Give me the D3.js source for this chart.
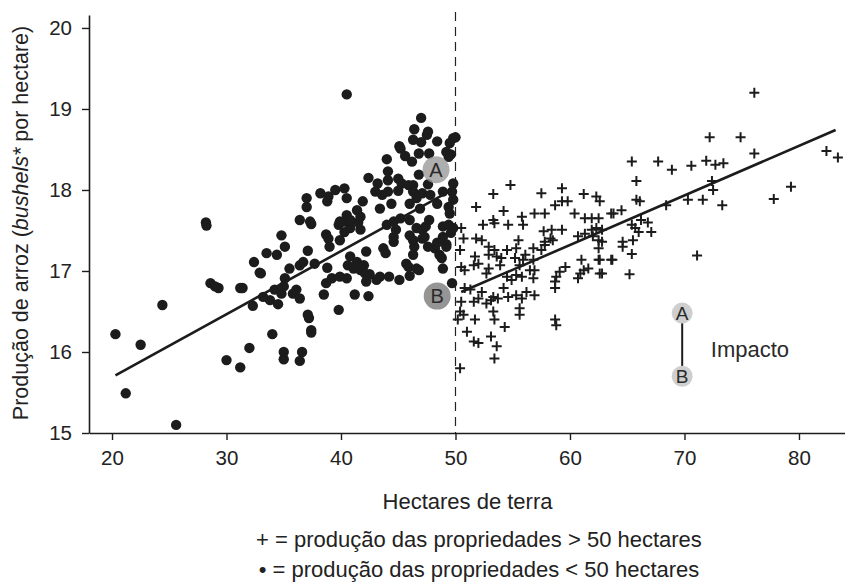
<!DOCTYPE html>
<html>
<head>
<meta charset="utf-8">
<script src="https://cdnjs.cloudflare.com/ajax/libs/d3/7.8.5/d3.min.js"></script>
<style>
  body { margin: 0; background: #fff; }
  svg { font-family: "Liberation Sans", Arial, sans-serif; }
</style>
</head>
<body>
<div id="chart"></div>
<script>
// small farms (< 50 ha): [hectares, yield]
var smallFarms = [
  [28.2,17.60],[28.25,17.56],[32.4,17.11],[32.9,16.98],[28.6,16.85],[29.3,16.79],[29.0,16.81],[31.4,16.79],[31.2,16.79],
  [24.4,16.58],[32.3,16.57],[20.3,16.22],[22.5,16.09],[32.0,16.05],[30.0,15.90],[31.2,15.81],[21.2,15.49],[25.6,15.10],
  [36.4,17.63],[37.4,17.58],[34.8,17.44],[38.7,17.45],[38.9,17.40],[39.0,17.30],[39.8,17.57],[40.3,17.48],[40.8,17.53],
  [41.7,17.51],[39.9,17.38],[33.5,17.22],[34.4,17.20],[35.1,17.30],[37.1,17.25],[33.0,16.97],[35.5,17.03],[36.4,17.07],
  [36.7,17.11],[37.7,17.09],[38.8,17.04],[35.1,16.91],[35.0,16.81],[34.2,16.77],[34.8,16.72],[33.2,16.68],[33.8,16.64],
  [34.5,16.59],[35.8,16.72],[36.1,16.77],[36.4,16.66],[38.5,16.71],[38.7,16.85],[39.2,16.91],[39.9,16.93],[40.8,17.18],
  [40.6,17.07],[41.1,17.03],[41.4,17.11],[41.7,17.01],[42.0,17.07],[42.1,16.97],[42.5,16.96],[40.5,16.91],[41.2,16.71],
  [42.2,16.87],[42.4,16.69],[42.2,17.24],[43.1,16.89],[43.4,16.93],[44.2,16.93],[45.1,16.89],[46.0,16.94],[46.8,17.01],
  [45.7,17.09],[45.9,17.05],[46.4,17.30],[46.3,17.20],[43.7,17.28],[43.9,17.22],[44.6,17.36],[39.8,16.52],[37.1,16.46],
  [37.2,16.42],[37.4,16.27],[37.4,16.24],[34.0,16.22],[35.0,16.00],[35.0,15.91],[36.6,16.00],[36.4,15.89],[48.2,17.28],
  [48.6,17.20],[48.8,17.16],[49.2,17.30],[48.9,17.03],[49.7,16.85],[48.9,17.55],[49.4,17.57],[49.8,17.53],[44.6,17.61],
  [45.2,17.65],[46.0,17.63],[46.6,17.53],[47.1,17.51],[46.0,17.44],[46.3,17.38],[47.1,17.40],[47.7,17.63],[40.3,17.61],
  [41.5,17.60],[44.0,17.57],[44.8,17.51],[44.6,17.42],
  [40.5,19.18],[47.0,18.89],[46.4,18.75],[47.6,18.72],[47.5,18.68],[46.3,18.62],[47.0,18.59],[48.4,18.60],[49.8,18.64],
  [50.0,18.65],[49.5,18.58],[45.1,18.54],[45.2,18.51],[46.8,18.45],[47.7,18.45],[49.2,18.47],[49.6,18.44],[49.4,18.41],
  [45.6,18.42],[46.2,18.35],[44.0,18.38],[44.1,18.23],[46.8,18.19],[47.6,18.07],[42.4,18.15],[43.2,18.08],[44.1,18.12],
  [45.0,18.14],[45.3,18.08],[45.9,18.06],[46.3,18.06],[49.8,18.08],[49.7,17.98],[49.8,17.88],[48.9,17.98],[43.0,17.98],
  [43.6,17.94],[44.1,17.98],[45.0,17.99],[44.4,17.83],[46.3,17.98],[46.6,17.90],[47.1,17.96],[47.8,17.94],[46.0,17.83],
  [46.9,17.77],[48.4,17.83],[49.4,17.79],[49.5,17.71],[38.2,17.96],[38.9,17.92],[38.8,17.86],[39.5,18.00],[40.3,18.02],
  [40.5,17.90],[37.0,17.90],[37.0,17.79],[41.9,17.86],[41.4,17.75],[40.5,17.69],[37.3,17.61],[43.4,17.77],[39.9,17.61],
  [40.8,17.63],[41.7,17.67],[49.6,17.47],[49.2,17.33],[48.9,17.42],[47.3,17.42],[48.4,17.35],[47.4,17.55],[47.6,17.30],
  [46.6,17.03]
];

// large farms (> 50 ha): [hectares, yield]
var largeFarms = [
  [54.8,18.06],[53.3,17.95],[57.5,17.96],[59.3,18.02],[61.2,17.95],[58.7,17.81],[59.3,17.86],[59.8,17.86],[62.3,17.92],
  [62.6,17.86],[51.8,17.79],[54.2,17.74],[55.8,17.67],[56.9,17.71],[57.8,17.71],[60.4,17.71],[53.3,17.63],[53.4,17.59],
  [61.3,17.65],[61.9,17.65],[52.4,17.57],[54.6,17.57],[55.9,17.57],[62.5,17.65],[62.3,17.53],[62.8,17.51],[50.5,17.53],
  [57.7,17.49],[58.4,17.51],[59.3,17.51],[61.3,17.46],[61.9,17.51],[50.7,17.40],[51.8,17.40],[52.3,17.38],[55.5,17.38],
  [57.8,17.36],[58.3,17.40],[58.5,17.38],[60.7,17.43],[62.0,17.43],[62.5,17.38],[62.8,17.36],[52.9,17.30],[53.4,17.26],
  [50.4,17.26],[54.5,17.26],[55.3,17.28],[56.1,17.20],[56.8,17.28],[57.5,17.26],[57.8,17.32],[62.5,17.28],[51.7,17.18],
  [52.9,17.20],[53.6,17.18],[54.0,17.16],[55.2,17.16],[55.9,17.14],[56.8,17.14],[61.0,17.14],[62.5,17.14],[50.5,17.05],
  [50.8,17.01],[51.6,17.07],[52.0,17.09],[52.9,17.03],[52.7,16.97],[53.9,17.07],[55.6,17.07],[56.5,17.01],[56.9,17.01],
  [59.6,17.05],[59.1,16.99],[61.6,17.03],[60.7,16.91],[62.6,16.97],[54.5,16.93],[54.9,16.89],[55.3,16.95],[55.8,16.93],
  [56.8,16.91],[58.8,16.93],[58.7,16.87],[58.7,16.79],[50.8,16.79],[51.3,16.77],[52.3,16.74],[53.3,16.68],[53.7,16.66],
  [54.2,16.79],[54.6,16.68],[55.3,16.70],[55.8,16.66],[56.2,16.74],[56.9,16.70],[50.5,16.62],[51.6,16.62],[52.7,16.60],
  [53.1,16.64],[52.0,16.66],[50.4,16.50],[50.7,16.46],[53.3,16.50],[53.4,16.40],[51.7,16.40],[50.2,16.40],[55.6,16.54],
  [55.6,16.46],[58.7,16.40],[58.8,16.33],[54.3,16.31],[51.0,16.25],[53.1,16.19],[51.6,16.13],[52.0,16.11],[53.6,16.07],
  [53.4,15.92],[50.4,15.80],
  [65.4,18.35],[67.7,18.35],[68.9,18.25],[70.6,18.30],[71.9,18.36],[72.7,18.31],[73.4,18.33],[65.8,18.11],[72.4,18.11],
  [72.5,18.00],[73.3,17.81],[70.3,17.88],[71.6,17.88],[68.4,17.81],[65.8,17.88],[66.1,17.86],[63.6,17.71],[64.5,17.75],
  [66.2,17.63],[66.8,17.60],[65.4,17.57],[65.7,17.53],[67.1,17.48],[66.0,17.48],[65.5,17.38],[64.6,17.36],[64.6,17.30],
  [65.4,17.21],[63.7,17.14],[62.8,16.97],[65.2,16.96],[71.1,17.19],[63.8,17.71],[60.9,16.97],[61.2,17.01],[62.6,17.14],
  [63.6,17.14],
  [76.1,19.20],[72.2,18.65],[74.9,18.65],[76.1,18.45],[82.4,18.48],[83.4,18.40],[77.8,17.89],[79.3,18.04]
];

// fitted lines, each [[x0,y0],[x1,y1]]
var fitSmall = [[20.3, 15.71], [49.3, 17.97]];
var fitLarge = [[50.5, 16.74], [83.2, 18.74]];

var xTicks = [20, 30, 40, 50, 60, 70, 80];
var yTicks = [15, 16, 17, 18, 19, 20];
var cutoff = 50;

// A / B markers at the cutoff, and the small key
var markers = [{label: "A", x: 48.3, y: 18.25}, {label: "B", x: 48.4, y: 16.69}];
var keyMarkers = [{label: "A", x: 69.8, y: 16.48}, {label: "B", x: 69.8, y: 15.70}];
var keyLabel = {text: "Impacto", x: 72.3, y: 16.03};

var width = 845, height = 586;
var margin = {top: 15, right: 0, bottom: 153, left: 89};
var w = width - margin.left - margin.right,
    h = height - margin.top - margin.bottom;

var x = d3.scaleLinear().domain([17.99, 84.02]).range([0, w]);
var y = d3.scaleLinear().domain([15, 20.16]).range([h, 0]);

var svg = d3.select("#chart").append("svg")
  .attr("width", width)
  .attr("height", height)
  .append("g")
    .attr("transform", "translate(" + margin.left + "," + margin.top + ")");

// cutoff dashed line
svg.append("line")
  .attr("x1", x(cutoff)).attr("x2", x(cutoff))
  .attr("y1", -3).attr("y2", h)
  .attr("stroke", "#222")
  .attr("stroke-width", 1.2)
  .attr("stroke-dasharray", "9,6");

// dots
svg.selectAll(".dot")
  .data(smallFarms)
  .enter().append("circle")
    .attr("class", "dot")
    .attr("cx", function(d) { return x(d[0]); })
    .attr("cy", function(d) { return y(d[1]); })
    .attr("r", 5.2)
    .attr("fill", "#1c1c1c");

// crosses
var cs = 5;
svg.selectAll(".cross")
  .data(largeFarms)
  .enter().append("path")
    .attr("class", "cross")
    .attr("d", function(d) {
      var cx = x(d[0]), cy = y(d[1]);
      return "M" + (cx - cs) + "," + cy + "H" + (cx + cs) +
             "M" + cx + "," + (cy - cs) + "V" + (cy + cs);
    })
    .attr("stroke", "#1c1c1c")
    .attr("stroke-width", 2)
    .attr("fill", "none");

// fitted lines
var line = d3.line()
  .x(function(d) { return x(d[0]); })
  .y(function(d) { return y(d[1]); });

[fitSmall, fitLarge].forEach(function(seg) {
  svg.append("path")
    .datum(seg)
    .attr("d", line)
    .attr("stroke", "#1c1c1c")
    .attr("stroke-width", 2.6)
    .attr("fill", "none");
});

// A/B markers on the chart
var mk = svg.selectAll(".mk")
  .data(markers)
  .enter().append("g")
    .attr("class", "mk")
    .attr("transform", function(d) { return "translate(" + x(d.x) + "," + y(d.y) + ")"; });
mk.append("circle")
  .attr("r", 13.5)
  .attr("fill", function(d) { return d.label == "A" ? "#9a9a9a" : "#959595"; })
  .attr("fill-opacity", function(d) { return d.label == "A" ? 0.8 : 1; });
mk.append("text")
  .attr("text-anchor", "middle")
  .attr("dy", "0.36em")
  .style("font-size", "20px")
  .attr("fill", "#2a2a2a")
  .text(function(d) { return d.label; });

// key: A - B = Impacto
svg.append("line")
  .attr("x1", x(keyMarkers[0].x)).attr("x2", x(keyMarkers[1].x))
  .attr("y1", y(keyMarkers[0].y)).attr("y2", y(keyMarkers[1].y))
  .attr("stroke", "#1c1c1c")
  .attr("stroke-width", 2);
var km = svg.selectAll(".km")
  .data(keyMarkers)
  .enter().append("g")
    .attr("class", "km")
    .attr("transform", function(d) { return "translate(" + x(d.x) + "," + y(d.y) + ")"; });
km.append("circle")
  .attr("r", 10.5)
  .attr("fill", "#cfcfcf");
km.append("text")
  .attr("text-anchor", "middle")
  .attr("dy", "0.36em")
  .style("font-size", "19px")
  .attr("fill", "#2a2a2a")
  .text(function(d) { return d.label; });
svg.append("text")
  .attr("x", x(keyLabel.x))
  .attr("y", y(keyLabel.y))
  .attr("dy", "0.35em")
  .style("font-size", "22px")
  .attr("fill", "#2a2a2a")
  .text(keyLabel.text);

// axes
var xAxis = svg.append("g")
  .attr("transform", "translate(0," + h + ")")
  .call(d3.axisBottom(x).tickValues(xTicks).tickSize(7).tickPadding(10).tickSizeOuter(0));
var yAxis = svg.append("g")
  .call(d3.axisLeft(y).tickValues(yTicks).tickFormat(d3.format("d")).tickSize(7).tickPadding(10).tickSizeOuter(0));
[xAxis, yAxis].forEach(function(a) {
  a.select(".domain").attr("stroke", "#1c1c1c").attr("stroke-width", 1.6);
  a.selectAll(".tick line").attr("stroke", "#1c1c1c").attr("stroke-width", 1.4);
  a.selectAll(".tick text").style("font-size", "20.5px").attr("fill", "#222")
    .style("font-family", "'Liberation Sans', Arial, sans-serif");
});

// x label
svg.append("text")
  .attr("x", x(51.05))
  .attr("y", h + 76)
  .attr("text-anchor", "middle")
  .style("font-size", "22px")
  .attr("fill", "#222")
  .text("Hectares de terra");

// y label
var yl = svg.append("text")
  .attr("transform", "rotate(-90)")
  .attr("x", -208)
  .attr("y", -margin.left + 28)
  .attr("text-anchor", "middle")
  .style("font-size", "21.5px")
  .attr("fill", "#222");
yl.append("tspan").text("Produção de arroz (");
yl.append("tspan").style("font-style", "italic").text("bushels*");
yl.append("tspan").text(" por hectare)");

// legend lines
var legendLines = [
  "+ = produção das propriedades > 50 hectares",
  "• = produção das propriedades < 50 hectares"
];
svg.selectAll(".legend")
  .data(legendLines)
  .enter().append("text")
    .attr("class", "legend")
    .attr("x", x(52.05))
    .attr("y", function(d, i) { return h + 114 + i * 30; })
    .attr("text-anchor", "middle")
    .style("font-size", "22px")
    .attr("fill", "#222")
    .text(function(d) { return d; });
</script>
</body>
</html>
